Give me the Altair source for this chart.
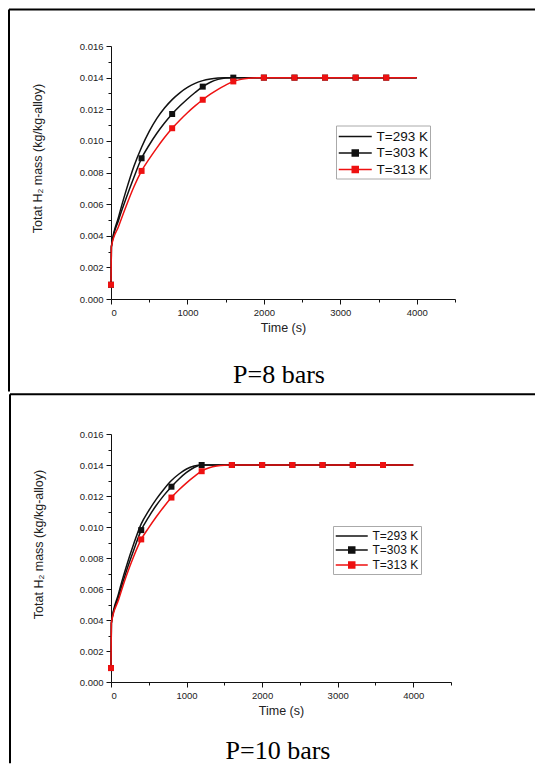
import altair as alt
import pandas as pd

series_names = ["T=293 K", "T=303 K", "T=313 K"]
series_colors = ["#111111", "#111111", "#ee1111"]

# ---------------- P = 8 bars ----------------
p8_t293_time = [0, 5, 100, 200, 300, 400, 500, 600, 700, 800, 900, 1000, 1100, 1200, 1300, 1400,
                1500, 4000]
p8_t293_mass = [0.0009, 0.0033, 0.0052, 0.0069, 0.0084, 0.0096, 0.01060, 0.01142, 0.01208, 0.01261,
                0.01304, 0.01338, 0.01364, 0.01381, 0.01391, 0.01397, 0.0140, 0.0140]
p8_t303_time = [0, 5, 100, 200, 300, 400, 500, 600, 700, 800, 900, 1000, 1100, 1200, 1300, 1400,
                1500, 1600, 4000]
p8_t303_mass = [0.0009, 0.0033, 0.0050, 0.0064, 0.0077, 0.0089, 0.00974, 0.01048, 0.01113, 0.0117,
                0.0122, 0.01265, 0.01306, 0.01343, 0.01371, 0.01389, 0.01398, 0.0140, 0.0140]
p8_t313_time = [0, 5, 100, 200, 300, 400, 500, 600, 700, 800, 900, 1000, 1100, 1200, 1300, 1400,
                1500, 1600, 1700, 1800, 1900, 2000, 4000]
p8_t313_mass = [0.0009, 0.0033, 0.0046, 0.0059, 0.0071, 0.0081, 0.00886, 0.00956, 0.01021, 0.0108,
                0.01131, 0.01178, 0.01221, 0.0126, 0.01295, 0.01326, 0.01353, 0.01376, 0.01389,
                0.01396, 0.01399, 0.0140, 0.0140]

marker_time = [0, 400, 800, 1200, 1600, 2000, 2400, 2800, 3200, 3600]
p8_t303_marker = [0.0009, 0.0089, 0.0117, 0.01343, 0.0140, 0.0140, 0.0140, 0.0140, 0.0140, 0.0140]
p8_t313_marker = [0.0009, 0.0081, 0.0108, 0.0126, 0.01376, 0.0140, 0.0140, 0.0140, 0.0140, 0.0140]

# ---------------- P = 10 bars ----------------
p10_t293_time = [0, 5, 100, 200, 300, 400, 500, 600, 700, 800, 900, 1000, 1100, 1200, 4000]
p10_t293_mass = [0.0009, 0.0038, 0.0057, 0.0074, 0.0089, 0.0102, 0.01106, 0.0118, 0.01244, 0.0130,
                 0.01342, 0.01374, 0.01393, 0.0140, 0.0140]
p10_t303_time = [0, 5, 100, 200, 300, 400, 500, 600, 700, 800, 900, 1000, 1100, 1200, 4000]
p10_t303_mass = [0.0009, 0.0038, 0.0055, 0.0071, 0.0085, 0.0098, 0.01066, 0.0114, 0.01204, 0.0126,
                 0.0131, 0.01352, 0.01384, 0.0140, 0.0140]
p10_t313_time = [0, 5, 100, 200, 300, 400, 500, 600, 700, 800, 900, 1000, 1100, 1200, 1300, 1400,
                 1500, 1600, 4000]
p10_t313_mass = [0.0009, 0.0038, 0.0053, 0.0068, 0.0081, 0.0092, 0.00996, 0.01066, 0.01131, 0.0119,
                 0.0124, 0.01285, 0.01325, 0.0136, 0.01382, 0.01394, 0.01399, 0.0140, 0.0140]
p10_t303_marker = [0.0009, 0.0098, 0.0126, 0.0140, 0.0140, 0.0140, 0.0140, 0.0140, 0.0140, 0.0140]
p10_t313_marker = [0.0009, 0.0092, 0.0119, 0.0136, 0.0140, 0.0140, 0.0140, 0.0140, 0.0140, 0.0140]

x_ticks = [0, 500, 1000, 1500, 2000, 2500, 3000, 3500, 4000, 4500]
y_ticks = [0.000, 0.001, 0.002, 0.003, 0.004, 0.005, 0.006, 0.007, 0.008,
           0.009, 0.010, 0.011, 0.012, 0.013, 0.014, 0.015, 0.016]

x_title = "Time (s)"
y_title = "Totat H\u2082 mass (kg/kg-alloy)"


def curves_df(times, masses):
    rows = []
    for name, t, m in zip(series_names, times, masses):
        for ti, mi in zip(t, m):
            rows.append({"time": ti, "mass": mi, "series": name})
    return pd.DataFrame(rows)


def markers_df(values):
    rows = []
    for name, vals in zip(series_names[1:], values):
        for ti, mi in zip(marker_time, vals):
            rows.append({"time": ti, "mass": mi, "series": name})
    return pd.DataFrame(rows)


def panel(curves, markers, w, h, caption, geo):
    x_axis = alt.Axis(values=x_ticks, title=x_title,
                      labelExpr="datum.value % 1000 == 0 ? datum.label : ''",
                      format="d",
                      tickSize={"condition": {"test": "datum.value % 1000 == 0", "value": 5}, "value": 3},
                      labelPadding=3, titlePadding=5, grid=False)
    y_axis = alt.Axis(values=y_ticks, title=y_title,
                      labelExpr="round(datum.value*1000) % 2 == 0 ? format(datum.value, '.3f') : ''",
                      tickSize={"condition": {"test": "round(datum.value*1000) % 2 == 0", "value": 5}, "value": 3},
                      labelPadding=3, titleX=geo["ytx"], titleY=geo["yty"], titleBaseline="middle",
                      titleAngle=270, grid=False)
    x = alt.X("time:Q", scale=alt.Scale(domain=[0, 4500], nice=False, zero=False), axis=x_axis)
    y = alt.Y("mass:Q", scale=alt.Scale(domain=[0, 0.016], nice=False), axis=y_axis)

    layers = []
    for name, col in zip(series_names, series_colors):
        layers.append(
            alt.Chart(curves).transform_filter(alt.datum.series == name)
            .mark_line(color=col, strokeWidth=1.5, interpolate="monotone")
            .encode(x=x, y=y, order="time:Q")
        )
    for name, col in zip(series_names[1:], series_colors[1:]):
        layers.append(
            alt.Chart(markers).transform_filter(alt.datum.series == name)
            .mark_point(shape="square", filled=True, size=36, color=col, opacity=1)
            .encode(x=x, y=y)
        )

    s = geo["sym"]
    half = 3.0 / s
    length = geo["len"] / s
    cx = (length - 2) / 2.0
    line_path = "M-1,0H%.3f" % (length - 1)
    box_path = line_path + "M%.3f,%.3fH%.3fV%.3fH%.3fZ" % (cx - half, -half, cx + half, half, cx - half)
    legend = alt.Legend(orient="none", legendX=geo["lx"], legendY=geo["ly"], title=None,
                        symbolSize=(2 * s) ** 2, symbolStrokeWidth=1.5,
                        labelFont="Liberation Sans", labelFontSize=geo["lfs"], labelColor="#111",
                        labelOffset=geo["len"] - 2 * s + 4,
                        strokeColor="#aaaaaa", padding=2, rowPadding=geo["rp"],
                        fillColor="white", symbolOpacity=1)
    leg_layer = (
        alt.Chart(curves).transform_filter("false")
        .mark_point(filled=True, opacity=1, strokeWidth=1.5)
        .encode(
            fill=alt.Fill("series:N", scale=alt.Scale(domain=series_names, range=series_colors), legend=legend),
            stroke=alt.Stroke("series:N", scale=alt.Scale(domain=series_names, range=series_colors), legend=legend),
            shape=alt.Shape("series:N", scale=alt.Scale(domain=series_names, range=[line_path, box_path, box_path]), legend=legend),
        )
    )
    layers.append(leg_layer)

    cap = (
        alt.Chart(pd.DataFrame({"caption": [caption]}))
        .mark_text(font="Liberation Serif", fontSize=26, align="center", baseline="alphabetic", color="black")
        .encode(text="caption:N", x=alt.value(geo["capx"]), y=alt.value(geo["capy"]))
    )
    layers.append(cap)

    frame = pd.DataFrame({"k": [0]})
    top_rule = alt.Chart(frame).mark_rule(color="black", strokeWidth=2).encode(
        x=alt.value(geo["left"]), x2=alt.value(geo["right"]), y=alt.value(geo["top"]), y2=alt.value(geo["top"]))
    left_rule = alt.Chart(frame).mark_rule(color="black", strokeWidth=2).encode(
        x=alt.value(geo["left"]), x2=alt.value(geo["left"]), y=alt.value(geo["top"]), y2=alt.value(geo["bottom"]))
    layers += [top_rule, left_rule]

    return alt.layer(*layers).properties(width=w, height=h).resolve_scale(
        fill="independent", stroke="independent", shape="independent")


geo1 = dict(ytx=-74, yty=112, sym=8.25, len=33, lx=225, ly=79.5, lfs=13.5, rp=0.5,
            capx=168, capy=337, left=-102, right=424, top=-36.4, bottom=345.6)
geo2 = dict(ytx=-73, yty=110, sym=7.25, len=32, lx=222, ly=92, lfs=12, rp=0,
            capx=167, capy=325, left=-101, right=424, top=-39.7, bottom=329.3)

p1 = panel(curves_df([p8_t293_time, p8_t303_time, p8_t313_time],
                     [p8_t293_mass, p8_t303_mass, p8_t313_mass]),
           markers_df([p8_t303_marker, p8_t313_marker]), 344, 253, "P=8 bars", geo1)
p2 = panel(curves_df([p10_t293_time, p10_t303_time, p10_t313_time],
                     [p10_t293_mass, p10_t303_mass, p10_t313_mass]),
           markers_df([p10_t303_marker, p10_t313_marker]), 340, 248, "P=10 bars", geo2)

chart = (
    alt.vconcat(p1, p2, spacing=0)
    .resolve_scale(fill="independent", stroke="independent", shape="independent")
    .resolve_legend(fill="independent", stroke="independent", shape="independent")
    .properties(padding=0, background="white")
    .configure_view(stroke=None)
    .configure_axis(domainColor="#111", domainWidth=1, tickColor="#111", tickWidth=1,
                    labelFont="Liberation Sans", labelFontSize=9.5, labelColor="#222",
                    titleFont="Liberation Sans", titleFontSize=12.5, titleFontWeight="normal",
                    titleColor="#222")
)

chart.save("out.html", embed_options={"renderer": "svg", "actions": False})
